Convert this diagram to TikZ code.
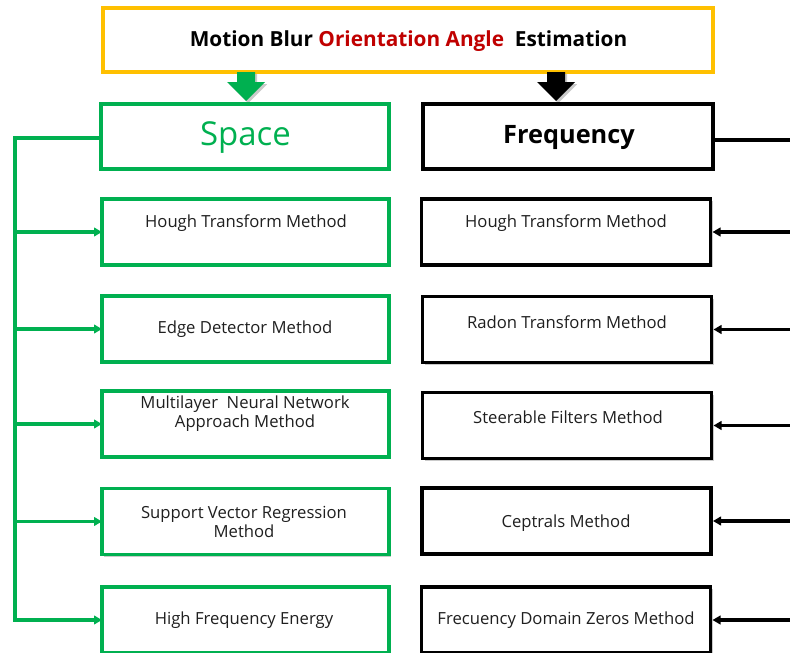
\documentclass[tikz,border=0pt]{standalone}
\usepackage{fontspec}
\setmainfont{Open Sans}
\usetikzlibrary{arrows.meta,shadows,calc}
\definecolor{cgreen}{HTML}{00B050}
\definecolor{corange}{HTML}{FFC000}
\definecolor{cred}{HTML}{C00000}
\begin{document}
\begin{tikzpicture}[x=0.75pt,y=-0.75pt,
  shad/.style={drop shadow={shadow xshift=1.6pt,shadow yshift=-1.6pt,opacity=0.35,fill=black!60}},
  box/.style={draw,fill=white,line width=2.8pt,shad,inner sep=0pt,outer sep=0pt},
  gbox/.style={box,draw=cgreen},
  kbox/.style={box,draw=black},
  lbox/.style={gbox,minimum width=215.25pt,minimum height=49.5pt},
  rbox/.style={kbox,minimum width=216.75pt,minimum height=49.5pt},
  txt/.style={font=\fontsize{12.5}{14}\selectfont,text=black!88,align=center,inner sep=0pt},
  gline/.style={draw=cgreen,line width=2.6pt},
  kline/.style={draw=black,line width=2.6pt},
  tip/.style={-{Triangle[length=6pt,width=6.5pt]}}
]
\useasboundingbox (0,0) rectangle (790,653);
% top
\node[box,draw=corange,minimum width=457.5pt,minimum height=48pt] (top) at (408,40) {};
\node[inner sep=0pt,font=\bfseries\fontsize{15.6}{17}\selectfont] (title) at (408.5,41)
  {Motion Blur \textcolor{cred}{Orientation Angle}\ \ Estimation};
% block arrows
\fill[cgreen,shad] (237,72) -- (255,72) -- (255,82) -- (265,82) -- (246,101) -- (227,82) -- (237,82) -- cycle;
\fill[black,shad] (547,72) -- (565,72) -- (565,82) -- (575,82) -- (556,101) -- (537,82) -- (547,82) -- cycle;
% headers
\node[gbox,minimum width=216pt,minimum height=48.75pt] (space) at (245,136.5) {};
\node[inner sep=0pt,text=cgreen,font=\fontsize{24.7}{28}\selectfont] (spacet) at (245.5,138) {Space};
\node[kbox,minimum width=217.5pt,minimum height=48.75pt] (freq) at (568,136.5) {};
\node[inner sep=0pt,font=\bfseries\fontsize{19}{22}\selectfont] (freqt) at (569,137.5) {Frequency};
% left column
\node[lbox] (L1) at (245.5,232) {};
\node[lbox] (L2) at (245.5,329) {};
\node[lbox] (L3) at (245.5,424) {};
\node[lbox] (L4) at (245.5,521.5) {};
\node[lbox] (L5) at (245.5,620) {};
\node[txt] (l1t) at (246,223.5) {Hough Transform Method};
\node[txt] (l2t) at (245,329.5) {Edge Detector Method};
\node[txt] (l3t) at (245,414) {Multilayer\ \ Neural Network\\Approach Method};
\node[txt] (l4t) at (244,522) {Support Vector Regression\\Method};
\node[txt] (l5t) at (244,620.5) {High Frequency Energy};
% right column
\node[rbox] (R1) at (566,232) {};
\node[rbox] (R2) at (567,329.5) {};
\node[rbox] (R3) at (567,425.5) {};
\node[rbox] (R4) at (566.5,521) {};
\node[rbox] (R5) at (566,620) {};
\node[txt] (r1t) at (566,223.5) {Hough Transform Method};
\node[txt] (r2t) at (567,322.5) {Radon Transform Method};
\node[txt] (r3t) at (568,417.5) {Steerable Filters Method};
\node[txt] (r4t) at (566,523.5) {Ceptrals Method};
\node[txt] (r5t) at (566,620.5) {Frecuency Domain Zeros Method};
% left bracket
\coordinate (lt) at (15,138);
\coordinate (rt) at (791,140);
\draw[gline,tip] (space.west |- lt) -- (lt) |- (L5.west);
\foreach \b in {L1,L2,L3,L4}{\draw[gline,tip] (lt |- \b.west) -- (\b.west);}
% right side
\draw[kline] (freq.east |- rt) -- (rt);
\foreach \b in {R1,R2,R3,R4,R5}{\draw[kline,tip] (rt |- \b.east) -- ($(\b.east)+(2,0)$);}
\end{tikzpicture}
\end{document}
